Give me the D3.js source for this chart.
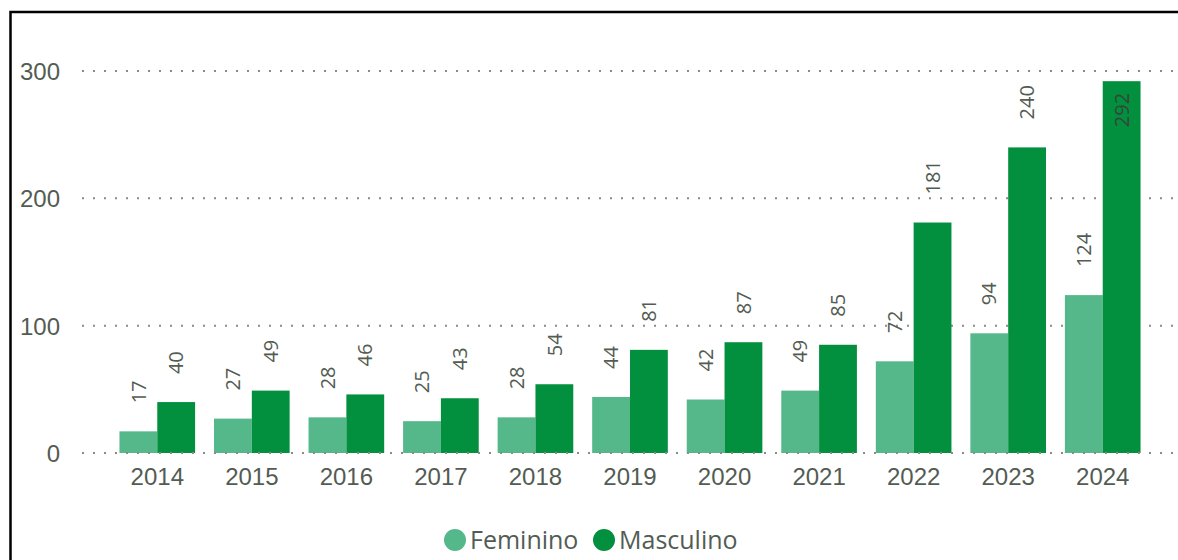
<!DOCTYPE html>
<html lang="pt">
<head>
  <meta charset="UTF-8">
  <title>Feminino / Masculino</title>
  <script src="https://d3js.org/d3.v7.min.js"></script>
  <style>
    body { margin: 0; background: #fff; }
    svg { display: block; font-family: "Open Sans", "Segoe UI", sans-serif; }
  </style>
</head>
<body>
  <svg id="chart" width="1178" height="560"></svg>
  <script>
    // dados
    var anos = ["2014", "2015", "2016", "2017", "2018", "2019", "2020", "2021", "2022", "2023", "2024"]
    var feminino = [17, 27, 28, 25, 28, 44, 42, 49, 72, 94, 124]
    var masculino = [40, 49, 46, 43, 54, 81, 87, 85, 181, 240, 292]
    var yTicks = [0, 100, 200, 300]
    var series = ["Feminino", "Masculino"]
    var cores = ["#55b88a", "#03903e"]
    var corTexto = "#535c53"

    var svg = d3.select("#chart")

    // moldura
    svg.append("rect")
      .attr("x", 10.5).attr("y", 12)
      .attr("width", 1200).attr("height", 600)
      .style("fill", "none").style("stroke", "#000").style("stroke-width", 2.5)

    var x = d3.scaleBand().domain(anos).range([110, 1150]).paddingInner(0.2).paddingOuter(0.1)
    var xs = d3.scaleBand().domain(series).range([0, x.bandwidth()])
    var y = d3.scaleLinear().domain([0, 300]).range([453, 71])

    // grade
    var grid = svg.append("g")
    grid.selectAll("line").data(yTicks.filter(function (d) { return d > 0 })).enter()
      .append("line")
      .attr("x1", 82).attr("x2", 1178)
      .attr("y1", function (d) { return y(d) }).attr("y2", function (d) { return y(d) })
      .style("stroke", "#8a8a8a").style("stroke-width", 2).style("stroke-dasharray", "2,9")

    // eixo y
    var yAxis = svg.append("g")
      .attr("transform", "translate(60,0)")
      .call(d3.axisLeft(y).tickValues(yTicks).tickSize(0).tickFormat(d3.format("d")))
    yAxis.select(".domain").remove()
    yAxis.selectAll("text").style("font-size", "24px").style("fill", corTexto).attr("dy", "0.36em").attr("x", 0)

    var dados = anos.map(function (a, i) { return { ano: a, valores: [feminino[i], masculino[i]] } })

    var grupos = svg.append("g").selectAll("g").data(dados).enter()
      .append("g")
      .attr("transform", function (d) { return "translate(" + x(d.ano) + ",0)" })

    grupos.selectAll("rect").data(function (d) {
      return d.valores.map(function (v, j) { return { serie: series[j], v: v, j: j } })
    }).enter()
      .append("rect")
      .attr("x", function (d) { return xs(d.serie) })
      .attr("width", xs.bandwidth())
      .attr("y", function (d) { return y(d.v) })
      .attr("height", function (d) { return y(0) - y(d.v) })
      .style("fill", function (d) { return cores[d.j] })

    // rotulos de dados
    function dentro(v) { return y(v) - 28 - 40 < 60 }
    grupos.selectAll("text").data(function (d) {
      return d.valores.map(function (v, j) { return { serie: series[j], v: v, j: j } })
    }).enter()
      .append("text")
      .attr("transform", function (d) {
        var cx = xs(d.serie) + xs.bandwidth() / 2
        var yy = dentro(d.v) ? y(d.v) + 46 : y(d.v) - 28
        return "translate(" + cx + "," + yy + ")rotate(-90)"
      })
      .attr("dy", "0.36em")
      .attr("text-anchor", "start")
      .style("font-size", "20px")
      .style("fill", function (d) { return dentro(d.v) ? "#34463a" : corTexto })
      .text(function (d) { return d.v })

    // linha do zero por cima das barras
    svg.append("line")
      .attr("x1", 82).attr("x2", 1178)
      .attr("y1", y(0)).attr("y2", y(0))
      .style("stroke", "#8a8a8a").style("stroke-width", 2).style("stroke-dasharray", "2,9")

    // eixo x
    var xAxis = svg.append("g")
      .attr("transform", "translate(0," + y(0) + ")")
      .call(d3.axisBottom(x).tickSize(0))
    xAxis.select(".domain").remove()
    xAxis.selectAll("text").style("font-size", "24px").style("fill", corTexto).attr("y", 15)

    // legenda
    var legX = [455, 604]
    var leg = svg.append("g").selectAll("g").data(series).enter()
      .append("g")
      .attr("transform", function (d, i) { return "translate(" + legX[i] + ",540)" })
    leg.append("circle").attr("r", 11).style("fill", function (d, i) { return cores[i] })
    leg.append("text").attr("x", 15).attr("dy", "0.35em")
      .style("font-size", "25px").style("fill", corTexto)
      .text(function (d) { return d })
  </script>
</body>
</html>
